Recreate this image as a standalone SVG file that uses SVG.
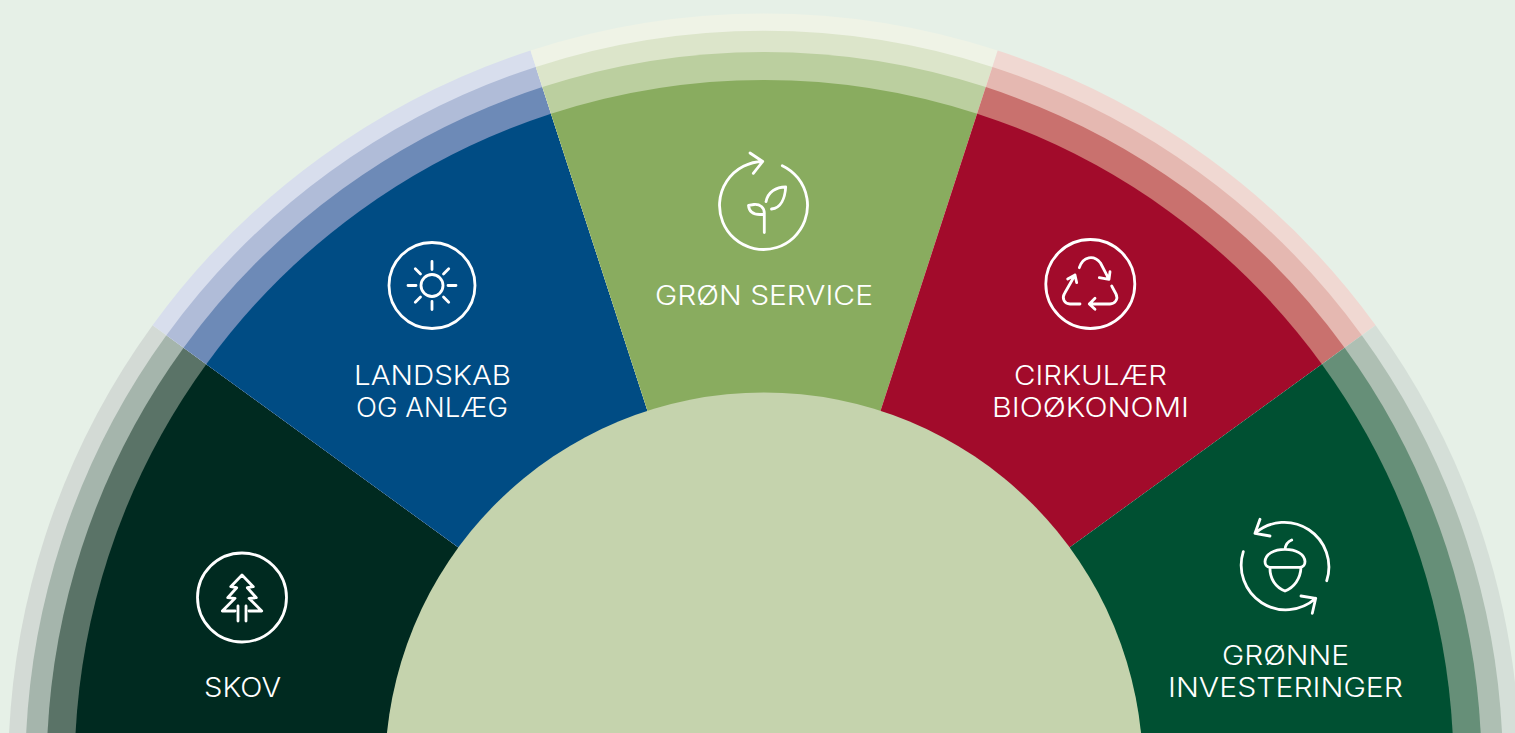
<svg xmlns="http://www.w3.org/2000/svg" width="1515" height="733" viewBox="0 0 1515 733">
<style>
.ic{fill:none;stroke:#fff;stroke-width:2.8;stroke-linecap:round;stroke-linejoin:round}
.lb{font-family:"Inter","Liberation Sans",sans-serif;font-weight:300;font-size:26.5px;fill:#fff;text-anchor:middle}
</style>
<rect width="1515" height="733" fill="#e6f0e7"/>
<g id="node-skov">
<path fill="#d3dad5" d="M764.1 769.5H8.2A755.9 755.9 0 0 1 152.6 325.2Z"/>
<path fill="#a5b5ac" d="M764.1 769.5H25.3A738.8 738.8 0 0 1 166.4 335.2Z"/>
<path fill="#5a7367" d="M764.1 769.5H46.6A717.5 717.5 0 0 1 183.6 347.8Z"/>
<path fill="#002a20" d="M764.1 769.5H74.6A689.5 689.5 0 0 1 206.3 364.2Z"/>
<circle class="ic" cx="242" cy="597.5" r="44.5"/>
<path class="ic" d="M235 611H222.3L235 598.3 227.7 597.7 236.7 587.7 230.7 586.7 242 575 253.3 586.7 247.3 587.7 256.3 597.7 249 598.3 261.7 611H249M238 606V621M246 606V621"/>
<text class="lb" x="242.5" y="696.5" textLength="77" lengthAdjust="spacingAndGlyphs">SKOV</text>
</g>
<g id="node-landskab">
<path fill="#d8deed" d="M764.1 769.5L152.6 325.2A755.9 755.9 0 0 1 530.5 50.6Z"/>
<path fill="#b0bcd8" d="M764.1 769.5L166.4 335.2A738.8 738.8 0 0 1 535.8 66.9Z"/>
<path fill="#6d8ab7" d="M764.1 769.5L183.6 347.8A717.5 717.5 0 0 1 542.4 87.1Z"/>
<path fill="#004c84" d="M764.1 769.5L206.3 364.2A689.5 689.5 0 0 1 551 113.7Z"/>
<circle class="ic" cx="432" cy="285.5" r="43"/>
<circle class="ic" cx="432" cy="285.5" r="11"/>
<path class="ic" d="M432 261.5V269.5M432 301.5V309.5M408 285.5H416M448 285.5H456M415.3 268.8L420.5 274M443.5 274L448.7 268.8M415.3 302.2L420.5 297M443.5 297L448.7 302.2"/>
<text class="lb" x="432.5" y="384.5" textLength="157" lengthAdjust="spacingAndGlyphs">LANDSKAB</text>
<text class="lb" x="432" y="416.5" textLength="152" lengthAdjust="spacingAndGlyphs">OG ANLÆG</text>
</g>
<g id="node-groen-service">
<path fill="#eff3e6" d="M764.1 769.5L530.5 50.6A755.9 755.9 0 0 1 997.7 50.6Z"/>
<path fill="#dce5ca" d="M764.1 769.5L535.8 66.9A738.8 738.8 0 0 1 992.4 66.9Z"/>
<path fill="#bbcf9f" d="M764.1 769.5L542.4 87.1A717.5 717.5 0 0 1 985.8 87.1Z"/>
<path fill="#89ac5f" d="M764.1 769.5L551 113.7A689.5 689.5 0 0 1 977.2 113.7Z"/>
<path class="ic" d="M762.7 161.5A44 44 0 1 0 782.3 165.7M750 153L762.7 161.5 753.3 173.3"/>
<path class="ic" d="M764.3 232.5V213C764.3 207.5 760 204 754 204.5L748.5 205.3C749 211 753 214.5 760 214.5H764.3M766 201.7C768 192 776 187 785.7 187C785 198 781 208 771.5 209"/>
<text class="lb" x="764" y="304.5" textLength="218" lengthAdjust="spacingAndGlyphs">GRØN SERVICE</text>
</g>
<g id="node-cirkulaer">
<path fill="#f0d8d2" d="M764.1 769.5L997.7 50.6A755.9 755.9 0 0 1 1375.6 325.2Z"/>
<path fill="#e5b8b1" d="M764.1 769.5L992.4 66.9A738.8 738.8 0 0 1 1361.8 335.2Z"/>
<path fill="#c9716e" d="M764.1 769.5L985.8 87.1A717.5 717.5 0 0 1 1344.6 347.8Z"/>
<path fill="#a20b2b" d="M764.1 769.5L977.2 113.7A689.5 689.5 0 0 1 1321.9 364.2Z"/>
<circle class="ic" cx="1090.3" cy="284" r="44.5"/>
<path class="ic" d="M1079.3 267.7C1083 256 1094 254.5 1100.5 263L1109 279.3M1099.3 277.7L1109 279.3 1110 271.7"/>
<path class="ic" d="M1111.7 286L1116 294C1118.5 299 1115 304 1110 304H1089.3M1095 298.3L1089.3 304 1095 309.3"/>
<path class="ic" d="M1080 304H1070C1064.5 304 1061.5 298.5 1064.5 293.5L1075 275M1067.7 279L1075 275 1076.7 282.7"/>
<text class="lb" x="1090.5" y="384.5" textLength="153" lengthAdjust="spacingAndGlyphs">CIRKULÆR</text>
<text class="lb" x="1090.5" y="416.5" textLength="197" lengthAdjust="spacingAndGlyphs">BIOØKONOMI</text>
</g>
<g id="node-groenne-investeringer">
<path fill="#d5dfd8" d="M764.1 769.5L1375.6 325.2A755.9 755.9 0 0 1 1520 769.5Z"/>
<path fill="#aebfb3" d="M764.1 769.5L1361.8 335.2A738.8 738.8 0 0 1 1502.9 769.5Z"/>
<path fill="#668f78" d="M764.1 769.5L1344.6 347.8A717.5 717.5 0 0 1 1481.6 769.5Z"/>
<path fill="#005032" d="M764.1 769.5L1321.9 364.2A689.5 689.5 0 0 1 1453.6 769.5Z"/>
<path class="ic" d="M1326.7 580.7A44.6 44.6 0 0 0 1255 533.3M1260 519.3L1255 533.3 1270 536"/>
<path class="ic" d="M1243.3 551.7A44.6 44.6 0 0 0 1315.7 598.3M1301 596L1315.7 598.3 1312.3 613.3"/>
<path class="ic" d="M1270 567.3C1266.5 567.3 1265 564.5 1265 561.5C1265.5 554 1274 549.3 1285 549.3C1296 549.3 1304.5 554 1305 561.5C1305 564.5 1303.5 567.3 1300 567.3ZM1285 549.3C1285.5 545 1288 541.5 1291.7 540M1270 567.3C1269.5 579 1276 587.5 1285 591C1294 587.5 1300.5 579 1301 567.3"/>
<text class="lb" x="1285.5" y="664.5" textLength="127" lengthAdjust="spacingAndGlyphs">GRØNNE</text>
<text class="lb" x="1285.5" y="696.5" textLength="235" lengthAdjust="spacingAndGlyphs">INVESTERINGER</text>
</g>
<circle id="node-center" cx="764" cy="771.5" r="379" fill="#c5d3ad"/>
<g id="connectors"/>
</svg>
